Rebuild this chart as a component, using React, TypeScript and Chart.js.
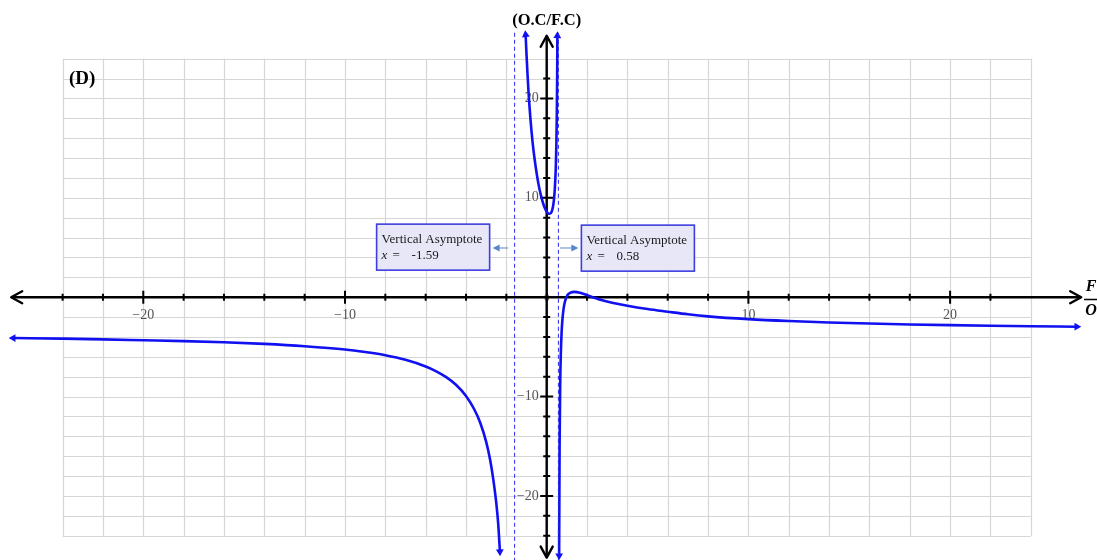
import React, { useEffect, useRef } from "react";
import { Chart, registerables } from "chart.js";
Chart.register(...registerables);

// ---- data ----
const LEFT_X = [-26.45, -24, -22, -20, -18, -16, -14, -12, -10, -9, -8, -7, -6, -5.5, -5, -4.5, -4, -3.6, -3.3, -3, -2.8, -2.65, -2.5, -2.4, -2.32];
const LEFT_Y = [-4.11, -4.17, -4.24, -4.33, -4.42, -4.54, -4.7, -4.93, -5.26, -5.52, -5.84, -6.3, -6.97, -7.43, -8.02, -8.81, -9.93, -11.25, -12.6, -14.55, -16.4, -18.3, -20.7, -22.9, -25.6];

const MID_X = [-1.045, -1.0, -0.95, -0.9, -0.8, -0.7, -0.6, -0.5, -0.4, -0.3, -0.2, -0.1, 0, 0.1, 0.2, 0.3, 0.35, 0.4, 0.45, 0.48, 0.5, 0.52, 0.53];
const MID_Y = [26.4, 24.4, 22.4, 20.6, 17.8, 15.6, 13.9, 12.5, 11.3, 10.35, 9.6, 9.0, 8.6, 8.4, 8.45, 9.0, 9.65, 10.8, 12.95, 15.4, 18.1, 22.6, 26.3];

const RIGHT_X = [0.617, 0.62, 0.64, 0.67, 0.7, 0.74, 0.78, 0.84, 0.9, 1.0, 1.1, 1.2, 1.35, 1.5, 1.7, 2.0, 2.4, 2.8, 3.3, 4, 5, 6, 7, 8, 10, 12, 14, 16, 18, 20, 22, 24, 26.28];
const RIGHT_Y = [-26.0, -23.98, -14.8, -8.7, -5.72, -3.5, -2.25, -1.12, -0.48, 0.1, 0.36, 0.48, 0.54, 0.51, 0.41, 0.21, -0.08, -0.33, -0.58, -0.86, -1.19, -1.46, -1.72, -1.93, -2.21, -2.4, -2.54, -2.65, -2.74, -2.81, -2.87, -2.92, -2.97];

const ASYMPTOTES = [-1.59, 0.58];
const ASYMPTOTE_VALUES = ["-1.59", "0.58"];
const ASYMPTOTE_TEXT = "Vertical Asymptote";

const GRID_LINES = [-24, -22, -20, -18, -16, -14, -12, -10, -8, -6, -4, -2, 0, 2, 4, 6, 8, 10, 12, 14, 16, 18, 20, 22, 24];
const TICKS = [-24, -22, -20, -18, -16, -14, -12, -10, -8, -6, -4, -2, 2, 4, 6, 8, 10, 12, 14, 16, 18, 20, 22];
const TICK_LABELS = [-20, -10, 10, 20];

const Y_TITLE = "(O.C/F.C)";
const X_TITLE_TOP = "F";
const X_TITLE_BOTTOM = "O";
const PANEL_LABEL = "(D)";

const SERIF = '"Liberation Serif", "Times New Roman", serif';
const BLUE = "#1010f0";

function pair(xs: number[], ys: number[]) {
  return xs.map((x, i) => ({ x, y: ys[i] }));
}
function endArr(n: number, a: number, b: number, mid = 0) {
  return Array.from({ length: n }, (_, i) => (i === 0 ? a : i === n - 1 ? b : mid));
}

const decorPlugin = {
  id: "decor",
  beforeDatasetsDraw(chart: any) {
    const { ctx, scales } = chart;
    const xs = scales.x, ys = scales.y;
    const px = (v: number) => xs.getPixelForValue(v);
    const py = (v: number) => ys.getPixelForValue(v);
    ctx.save();
    // grid
    ctx.strokeStyle = "#d6d6d6";
    ctx.lineWidth = 1.2;
    for (const g of GRID_LINES) {
      ctx.beginPath();
      ctx.moveTo(Math.round(px(g)) + 0.5, py(24));
      ctx.lineTo(Math.round(px(g)) + 0.5, py(-24));
      ctx.stroke();
      ctx.beginPath();
      ctx.moveTo(px(-24), Math.round(py(g)) + 0.5);
      ctx.lineTo(px(24), Math.round(py(g)) + 0.5);
      ctx.stroke();
    }
    // tick labels
    ctx.fillStyle = "#555";
    ctx.font = `14px ${SERIF}`;
    ctx.textBaseline = "middle";
    ctx.textAlign = "center";
    for (const t of TICK_LABELS) {
      ctx.fillText(t < 0 ? "\u2212" + Math.abs(t) : String(t), px(t), py(0) + 18);
    }
    ctx.textAlign = "right";
    for (const t of TICK_LABELS) {
      ctx.fillText(t < 0 ? "\u2212" + Math.abs(t) : String(t), px(0) - 8, py(t));
    }
    ctx.textAlign = "center";
    ctx.font = `11px ${SERIF}`;
    ctx.fillText("0", px(0), py(0) + 1);

    // axes
    const x0 = px(0), y0 = py(0);
    const xl = px(-26.55), xr = px(26.5);
    const yt = py(26.3), yb = py(-26.2);
    ctx.strokeStyle = "#000";
    ctx.lineWidth = 2.4;
    ctx.lineCap = "round";
    ctx.lineJoin = "round";
    ctx.beginPath();
    ctx.moveTo(xl + 1, y0); ctx.lineTo(xr - 1, y0);
    ctx.moveTo(x0, yt + 1); ctx.lineTo(x0, yb - 1);
    ctx.stroke();
    ctx.beginPath();
    ctx.moveTo(xl + 11, y0 - 6); ctx.lineTo(xl, y0); ctx.lineTo(xl + 11, y0 + 6);
    ctx.moveTo(xr - 11, y0 - 6); ctx.lineTo(xr, y0); ctx.lineTo(xr - 11, y0 + 6);
    ctx.moveTo(x0 - 6, yt + 11); ctx.lineTo(x0, yt); ctx.lineTo(x0 + 6, yt + 11);
    ctx.moveTo(x0 - 6, yb - 11); ctx.lineTo(x0, yb); ctx.lineTo(x0 + 6, yb - 11);
    ctx.stroke();
    // ticks
    ctx.lineWidth = 2;
    ctx.lineCap = "butt";
    for (const t of TICKS) {
      const h = t % 10 === 0 ? 6.5 : 3.5;
      ctx.beginPath();
      ctx.moveTo(px(t), y0 - h); ctx.lineTo(px(t), y0 + h);
      ctx.moveTo(x0 - h, py(t)); ctx.lineTo(x0 + h, py(t));
      ctx.stroke();
    }

    // titles
    ctx.fillStyle = "#000";
    ctx.textAlign = "center";
    ctx.font = `bold 16.5px ${SERIF}`;
    ctx.fillText(Y_TITLE, x0, 21);
    ctx.textAlign = "left";
    ctx.font = `bold 19px ${SERIF}`;
    ctx.fillText(PANEL_LABEL, 69, 79);
    ctx.textAlign = "center";
    ctx.font = `bold italic 16px ${SERIF}`;
    ctx.fillText(X_TITLE_TOP, 1091, 287);
    ctx.fillText(X_TITLE_BOTTOM, 1091, 311);
    ctx.lineWidth = 1.5;
    ctx.beginPath();
    ctx.moveTo(1084, 299.5); ctx.lineTo(1097, 299.5);
    ctx.stroke();
    ctx.restore();
  },
  afterDatasetsDraw(chart: any) {
    const { ctx, scales } = chart;
    const px = (v: number) => scales.x.getPixelForValue(v);
    const py = (v: number) => scales.y.getPixelForValue(v);
    ctx.save();
    ASYMPTOTES.forEach((a, i) => {
      const ax = px(a);
      const w = 113, h = 46;
      const left = i === 0 ? ax - 25 - w : ax + 23;
      const top = py(7.35) + i;
      ctx.fillStyle = "#e7e7f8";
      ctx.fillRect(left, top, w, h);
      ctx.strokeStyle = "#3e3ee0";
      ctx.lineWidth = 1.6;
      ctx.strokeRect(left, top, w, h);
      ctx.fillStyle = "#1a1a1a";
      ctx.textBaseline = "alphabetic";
      ctx.textAlign = "left";
      ctx.font = `13px ${SERIF}`;
      ctx.fillText(ASYMPTOTE_TEXT, left + 5, top + 19);
      ctx.font = `italic 13px ${SERIF}`;
      ctx.fillText("x", left + 5, top + 35);
      ctx.font = `13px ${SERIF}`;
      ctx.fillText("=", left + 16, top + 35);
      ctx.fillText(ASYMPTOTE_VALUES[i], left + 35, top + 35);
      // small pointer arrow
      const ay = py(4.95);
      const tail = i === 0 ? ax - 6.5 : ax + 1.6;
      const head = i === 0 ? ax - 22 : ax + 20;
      const dir = i === 0 ? -1 : 1;
      ctx.strokeStyle = "#5a86c8";
      ctx.fillStyle = "#5a86c8";
      ctx.lineWidth = 1;
      ctx.beginPath();
      ctx.moveTo(tail, ay); ctx.lineTo(head - dir * 5, ay);
      ctx.stroke();
      ctx.beginPath();
      ctx.moveTo(head, ay); ctx.lineTo(head - dir * 7, ay - 3.5); ctx.lineTo(head - dir * 7, ay + 3.5);
      ctx.closePath();
      ctx.fill();
    });
    ctx.restore();
  },
};

export default function App() {
  const ref = useRef<HTMLCanvasElement>(null);
  useEffect(() => {
    document.body.style.margin = "0";
    const curve = (xs: number[], ys: number[], r0: number, r1: number) => ({
      data: pair(xs, ys),
      borderColor: BLUE,
      backgroundColor: BLUE,
      borderWidth: 2.6,
      showLine: true,
      cubicInterpolationMode: "monotone" as const,
      pointStyle: "triangle" as const,
      pointRadius: endArr(xs.length, 4.5, 4.5),
      pointHoverRadius: 0,
      pointRotation: endArr(xs.length, r0, r1),
      pointBorderWidth: 0,
      pointBackgroundColor: BLUE,
      clip: false as any,
    });
    const asym = (a: number) => ({
      data: [{ x: a, y: 26.6 }, { x: a, y: -27 }],
      borderColor: "#2a2af0",
      borderWidth: 1,
      borderDash: [4, 3],
      showLine: true,
      pointRadius: 0,
    });
    const chart = new Chart(ref.current!, {
      type: "scatter",
      data: {
        datasets: [
          asym(ASYMPTOTES[0]),
          asym(ASYMPTOTES[1]),
          curve(LEFT_X, LEFT_Y, 270, 178),
          curve(MID_X, MID_Y, -6, 2),
          curve(RIGHT_X, RIGHT_Y, 180, 90),
        ],
      },
      options: {
        animation: false,
        responsive: false,
        maintainAspectRatio: false,
        layout: { padding: 0, autoPadding: false },
        plugins: { legend: { display: false }, tooltip: { enabled: false }, title: { display: false } },
        events: [],
        scales: {
          x: { type: "linear", min: -27.104, max: 27.283, display: false },
          y: { type: "linear", min: -26.44, max: 29.9, display: false },
        },
      },
      plugins: [decorPlugin],
    });
    return () => chart.destroy();
  }, []);
  return (
    <div style={{ position: "absolute", left: 0, top: 0, width: 1097, height: 560, background: "#fff" }}>
      <canvas ref={ref} width={1097} height={560} style={{ width: 1097, height: 560, display: "block" }} />
    </div>
  );
}
